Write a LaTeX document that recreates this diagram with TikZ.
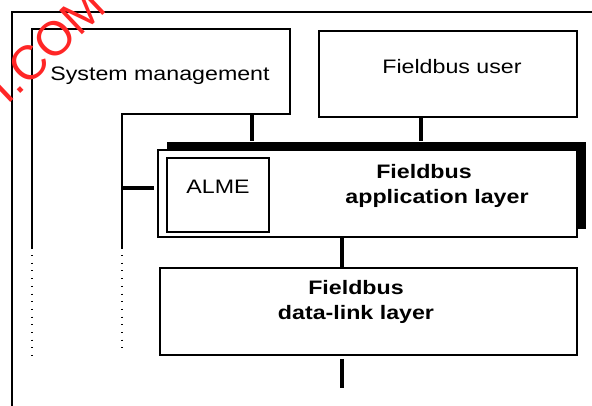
\documentclass[tikz,border=0pt]{standalone}
\usepackage{fontspec}
\setmainfont{Liberation Sans}[FakeStretch=1.19]
\newfontfamily\wmfont{Liberation Sans}
\usetikzlibrary{shadows,calc}
\begin{document}
\begin{tikzpicture}[x=1pt,y=-1pt,
  box/.style={draw=black,line width=1.5pt,fill=white,inner sep=0pt},
  thin/.style={line width=1.4pt},
  conn/.style={line width=4.5pt},
  dots/.style={line width=1.3pt,dash pattern=on 1pt off 6.7pt},
  lbl/.style={inner sep=0pt,font=\fontsize{19.5}{22}\selectfont},
  blbl/.style={inner sep=0pt,font=\fontsize{19.5}{22}\selectfont\bfseries}]
\useasboundingbox (0,0) rectangle (592,405);
\clip (0,0) rectangle (592,405);
\fill[white] (0,0) rectangle (592,405);
% outer frame
\draw[thin] (12,420) -- (12,12) -- (610,12);
% system management shape
\draw[thin] (32,249) -- (32,29) -- (290,29) -- (290,114) -- (122,114) -- (122,249);
\coordinate (smc) at (252,114);
\coordinate (smleg) at (122,188);
\draw[dots] (32,255) -- (32,356);
\draw[dots] (122,255) -- (122,350);
\node[lbl] (smt) at (160,76) {System management};
% fieldbus user
\node[box,minimum width=258pt,minimum height=86pt] (fbu) at (448,74) {};
\node[lbl] (fbut) at (452,67) {Fieldbus user};
% application layer with shadow
\node[box,minimum width=419pt,minimum height=87pt,
  general shadow={fill=black,shadow xshift=9pt,shadow yshift=8pt}] (fal) at (367.5,193.5) {};
\node[box,line width=2pt,minimum width=102pt,minimum height=74pt] (alme) at (218,195) {};
\node[lbl] (almet) at (218,187) {ALME};
\node[blbl] (falt1) at (424,172) {Fieldbus};
\node[blbl] (falt2) at (437,198) {application layer};
% data link layer
\node[box,minimum width=417pt,minimum height=87pt] (dll) at (368.5,311.5) {};
\node[blbl] (dllt1) at (356,288) {Fieldbus};
\node[blbl] (dllt2) at (356,314) {data-link layer};
\coordinate (bartop) at ($(fal.north)+(0,-8)$);
\coordinate (out) at (342,388);
% connectors
\draw[conn] (smc) -- (smc |- bartop);
\draw[conn] ([xshift=-27pt]fbu.south) -- ([xshift=-27pt]fbu.south |- bartop);
\draw[conn] (smleg) -- ([xshift=-3pt]fal.west |- smleg);
\draw[conn] ([xshift=-25.5pt]fal.south) -- ([xshift=-25.5pt]fal.south |- dll.north);
\draw[conn] ([yshift=-3pt]dll.south -| out) -- (out);
% watermark
\node[text=red!85,font=\wmfont\fontsize{48}{48}\selectfont,rotate=43.4,anchor=base west,inner sep=0pt] (wm) at (7.7,105.6) {I.COM};
\end{tikzpicture}
\end{document}
